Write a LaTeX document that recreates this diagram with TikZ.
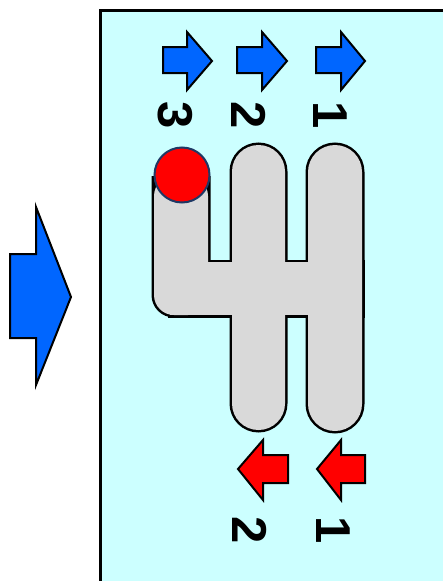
\documentclass[tikz,border=0pt]{standalone}
\usepackage{fontspec}
\setmainfont{Liberation Sans}
\definecolor{bgcyan}{RGB}{204,255,255}
\definecolor{arrblue}{RGB}{0,102,255}
\definecolor{gategray}{RGB}{217,217,217}
\definecolor{balledge}{RGB}{31,56,100}
\tikzset{
  arrowshape/.style={draw=black, line width=2pt, line join=miter},
  bluearrow/.style={arrowshape, fill=arrblue},
  redarrow/.style={arrowshape, fill=red},
  digit/.style={inner sep=0pt, rotate=-90, font=\fontsize{49}{49}\selectfont\bfseries},
  gateout/.style={draw=black, line width=5pt},
  gatefill/.style={fill=gategray},
}
\begin{document}
\begin{tikzpicture}[x=1pt,y=-1pt]
\useasboundingbox (0,0) rectangle (443,581);
\clip (0,0) rectangle (443,581);
\fill[white] (0,0) rectangle (443,581);
% panel
\draw[fill=bgcyan, line width=3pt] (100,10) rectangle (480,620);
% big arrow
\draw[bluearrow] (10,254) -- (36,254) -- (36,207) -- (71,297) -- (36,385) -- (36,338) -- (10,338) -- cycle;
% top blue arrows
\draw[bluearrow] (163,47) -- (187,47) -- (187,32) -- (212,61) -- (187,90) -- (187,73) -- (163,73) -- cycle;
\draw[bluearrow] (237,47) -- (262,47) -- (262,32) -- (287,61) -- (262,90) -- (262,73) -- (237,73) -- cycle;
\draw[bluearrow] (316,47) -- (341,47) -- (341,32) -- (365,61) -- (341,90) -- (341,73) -- (316,73) -- cycle;
% top digits
\node[digit] (g3) at (175,115) {3};
\node[digit] (g2) at (249,115) {2};
\node[digit] (g1) at (330,115) {1};
% gate outline (union trick)
\path[gateout, rounded corners=20pt] (154,176) -- (154,315) -- (208,315) -- (208,176);
\path[gateout] (170,262) rectangle (362,315);
\path[gateout, rounded corners=26.5pt] (232,145) rectangle (285,430);
\path[gateout, rounded corners=27pt] (308,145) rectangle (362,431);
\path[gatefill, rounded corners=20pt] (154,176) -- (154,315) -- (208,315) -- (208,176) -- cycle;
\path[gatefill] (170,262) rectangle (362,315);
\path[gatefill, rounded corners=26.5pt] (232,145) rectangle (285,430);
\path[gatefill, rounded corners=27pt] (308,145) rectangle (362,431);
% knob
\draw[fill=red, draw=balledge, line width=2pt] (182,175) circle (27.5pt);
% bottom red arrows
\draw[redarrow] (238,469) -- (263,440) -- (263,455) -- (288,455) -- (288,483) -- (263,483) -- (263,500) -- cycle;
\draw[redarrow] (317,469) -- (341,440) -- (341,455) -- (365,455) -- (365,483) -- (341,483) -- (341,500) -- cycle;
% bottom digits
\node[digit] (r2) at (250,530) {2};
\node[digit] (r1) at (333,530) {1};
\end{tikzpicture}
\end{document}
